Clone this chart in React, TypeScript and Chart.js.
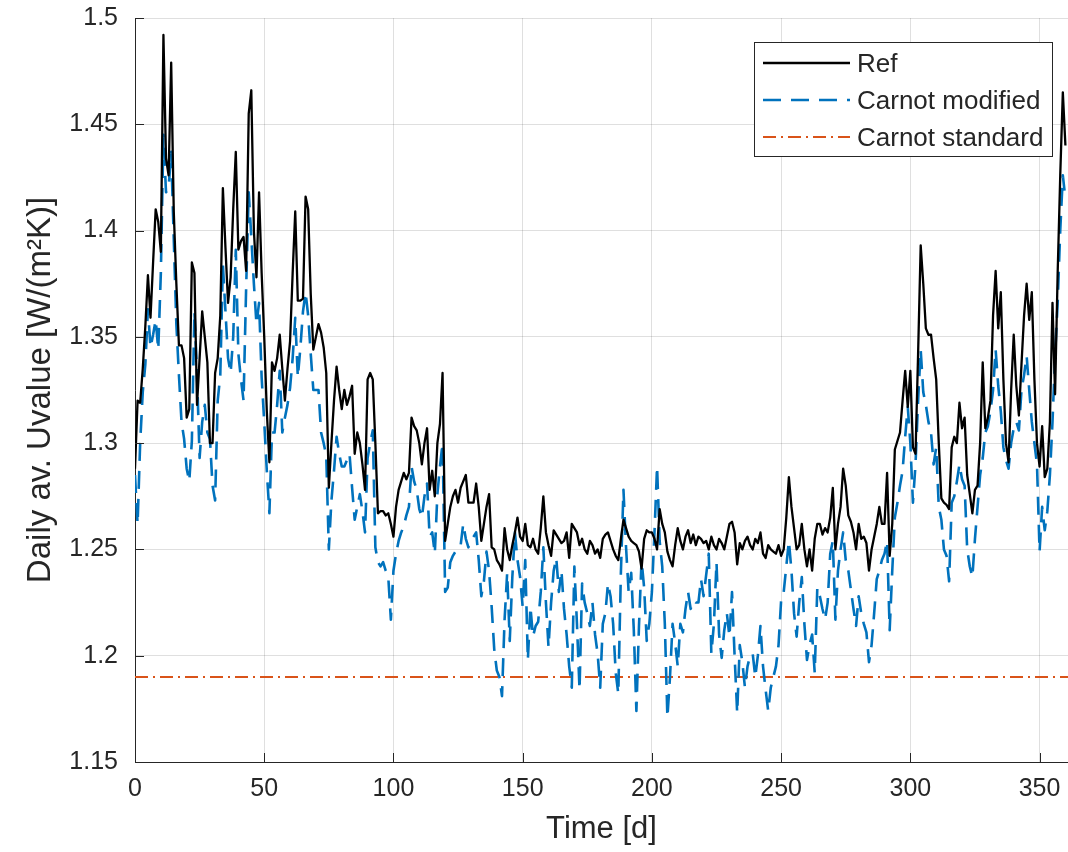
import React, { useEffect, useRef } from "react";
import { Chart, registerables } from "chart.js";

Chart.register(...registerables);

// ---- data ----
const SERIES_LABELS = ["Ref", "Carnot modified", "Carnot standard"];

// daily values, index = day
const REF_VALUES = [
  1.288, 1.320, 1.319, 1.335, 1.355, 1.379, 1.359, 1.385, 1.410, 1.404,
  1.390, 1.492, 1.434, 1.426, 1.479, 1.409, 1.375, 1.346, 1.346, 1.340,
  1.312, 1.316, 1.385, 1.380, 1.318, 1.340, 1.362, 1.350, 1.338, 1.300,
  1.300, 1.333, 1.340, 1.360, 1.420, 1.392, 1.366, 1.378, 1.410, 1.437,
  1.391, 1.395, 1.397, 1.381, 1.455, 1.466, 1.400, 1.378, 1.418, 1.380,
  1.350, 1.315, 1.291, 1.338, 1.334, 1.340, 1.351, 1.335, 1.320, 1.335,
  1.348, 1.380, 1.409, 1.367, 1.367, 1.368, 1.416, 1.410, 1.370, 1.344,
  1.350, 1.356, 1.352, 1.345, 1.333, 1.279, 1.300, 1.320, 1.336, 1.325,
  1.316, 1.325, 1.318, 1.322, 1.327, 1.295, 1.305, 1.300, 1.290, 1.278,
  1.330, 1.333, 1.330, 1.300, 1.267, 1.268, 1.268, 1.266, 1.267, 1.262,
  1.256, 1.270, 1.278, 1.282, 1.286, 1.283, 1.286, 1.312, 1.308, 1.306,
  1.300, 1.290, 1.300, 1.307, 1.278, 1.287, 1.275, 1.300, 1.309, 1.333,
  1.254, 1.262, 1.270, 1.275, 1.278, 1.272, 1.279, 1.282, 1.285, 1.272,
  1.272, 1.272, 1.281, 1.270, 1.254, 1.262, 1.270, 1.276, 1.251, 1.250,
  1.245, 1.243, 1.240, 1.260, 1.250, 1.245, 1.252, 1.258, 1.265, 1.256,
  1.254, 1.262, 1.252, 1.251, 1.255, 1.250, 1.248, 1.260, 1.275, 1.258,
  1.252, 1.247, 1.259, 1.257, 1.255, 1.253, 1.254, 1.258, 1.246, 1.262,
  1.260, 1.258, 1.252, 1.255, 1.250, 1.248, 1.254, 1.252, 1.248, 1.250,
  1.246, 1.255, 1.257, 1.258, 1.254, 1.250, 1.247, 1.245, 1.255, 1.264,
  1.260, 1.256, 1.254, 1.253, 1.252, 1.249, 1.241, 1.255, 1.259, 1.258,
  1.258, 1.255, 1.250, 1.269, 1.262, 1.258, 1.249, 1.245, 1.242, 1.252,
  1.260, 1.254, 1.250, 1.256, 1.259, 1.253, 1.257, 1.252, 1.256, 1.255,
  1.253, 1.254, 1.250, 1.256, 1.252, 1.250, 1.255, 1.253, 1.250, 1.256,
  1.262, 1.263, 1.258, 1.243, 1.253, 1.250, 1.254, 1.256, 1.252, 1.250,
  1.255, 1.253, 1.258, 1.248, 1.246, 1.252, 1.250, 1.249, 1.248, 1.252,
  1.247, 1.250, 1.265, 1.284, 1.270, 1.260, 1.250, 1.252, 1.262, 1.250,
  1.242, 1.250, 1.240, 1.255, 1.262, 1.262, 1.257, 1.260, 1.258, 1.265,
  1.279, 1.250, 1.262, 1.270, 1.288, 1.280, 1.266, 1.263, 1.258, 1.250,
  1.262, 1.255, 1.256, 1.253, 1.240, 1.250, 1.256, 1.262, 1.270, 1.262,
  1.262, 1.286, 1.247, 1.262, 1.297, 1.301, 1.305, 1.320, 1.334, 1.317,
  1.334, 1.298, 1.295, 1.342, 1.393, 1.375, 1.354, 1.351, 1.351, 1.340,
  1.330, 1.300, 1.274, 1.272, 1.271, 1.269, 1.298, 1.303, 1.300, 1.319,
  1.307, 1.312, 1.285, 1.276, 1.267, 1.278, 1.280, 1.300, 1.338, 1.307,
  1.312, 1.320, 1.360, 1.381, 1.354, 1.371, 1.330, 1.300, 1.291, 1.325,
  1.351, 1.327, 1.313, 1.337, 1.360, 1.375, 1.358, 1.371, 1.330, 1.300,
  1.289, 1.308, 1.284, 1.288, 1.310, 1.366, 1.323, 1.380, 1.426, 1.465,
  1.440,
];

const MOD_VALUES = [
  1.285, 1.262, 1.300, 1.324, 1.337, 1.363, 1.345, 1.351, 1.358, 1.344,
  1.380, 1.445, 1.418, 1.420, 1.437, 1.396, 1.356, 1.332, 1.310, 1.302,
  1.288, 1.282, 1.301, 1.362, 1.332, 1.293, 1.310, 1.318, 1.305, 1.302,
  1.280, 1.273, 1.320, 1.332, 1.384, 1.362, 1.340, 1.333, 1.350, 1.391,
  1.342, 1.330, 1.320, 1.373, 1.418, 1.397, 1.375, 1.356, 1.366, 1.331,
  1.310, 1.287, 1.267, 1.305, 1.305, 1.318, 1.334, 1.305, 1.312, 1.318,
  1.326, 1.340, 1.359, 1.331, 1.345, 1.362, 1.371, 1.360, 1.342, 1.325,
  1.325, 1.325, 1.305, 1.300, 1.294, 1.250, 1.273, 1.287, 1.303, 1.295,
  1.289, 1.289, 1.292, 1.295, 1.279, 1.264, 1.270, 1.276, 1.268, 1.258,
  1.293, 1.300, 1.306, 1.251, 1.244, 1.242, 1.244, 1.240, 1.237, 1.217,
  1.240, 1.248, 1.254, 1.258, 1.261, 1.266, 1.270, 1.289, 1.282, 1.278,
  1.269, 1.265, 1.275, 1.281, 1.256, 1.258, 1.248, 1.276, 1.289, 1.300,
  1.230, 1.232, 1.244, 1.247, 1.249, 1.250, 1.252, 1.262, 1.255, 1.251,
  1.254, 1.256, 1.258, 1.245, 1.228, 1.235, 1.249, 1.240, 1.223, 1.203,
  1.193, 1.190, 1.181, 1.217, 1.239, 1.207, 1.237, 1.258, 1.245, 1.237,
  1.223, 1.245, 1.198, 1.223, 1.209, 1.214, 1.216, 1.230, 1.251, 1.225,
  1.204, 1.225, 1.240, 1.246, 1.230, 1.240, 1.222, 1.210, 1.195, 1.185,
  1.242, 1.215, 1.184, 1.234, 1.225, 1.220, 1.214, 1.225, 1.210, 1.201,
  1.185, 1.215, 1.220, 1.234, 1.228, 1.215, 1.192, 1.182, 1.239, 1.278,
  1.251, 1.230, 1.239, 1.212, 1.174, 1.214, 1.245, 1.232, 1.207, 1.215,
  1.230, 1.258, 1.289, 1.254, 1.242, 1.215, 1.171, 1.190, 1.215, 1.206,
  1.195, 1.215, 1.211, 1.222, 1.230, 1.222, 1.226, 1.225, 1.225, 1.236,
  1.228, 1.238, 1.248, 1.201, 1.215, 1.244, 1.210, 1.199, 1.212, 1.220,
  1.209, 1.230, 1.200, 1.173, 1.205, 1.197, 1.185, 1.195, 1.200, 1.201,
  1.190, 1.200, 1.214, 1.195, 1.184, 1.174, 1.185, 1.190, 1.195, 1.205,
  1.226, 1.230, 1.242, 1.254, 1.240, 1.220, 1.209, 1.225, 1.237, 1.215,
  1.198, 1.205, 1.210, 1.192, 1.232, 1.228, 1.222, 1.217, 1.225, 1.248,
  1.254, 1.217, 1.240, 1.250, 1.258, 1.245, 1.240, 1.231, 1.222, 1.214,
  1.228, 1.220, 1.215, 1.211, 1.197, 1.205, 1.220, 1.236, 1.240, 1.245,
  1.248, 1.254, 1.212, 1.240, 1.265, 1.272, 1.280, 1.287, 1.303, 1.317,
  1.300, 1.272, 1.290, 1.320, 1.344, 1.324, 1.318, 1.310, 1.305, 1.290,
  1.298, 1.270, 1.264, 1.250, 1.247, 1.235, 1.272, 1.275, 1.282, 1.290,
  1.283, 1.280, 1.250, 1.242, 1.237, 1.255, 1.270, 1.285, 1.293, 1.305,
  1.308, 1.315, 1.325, 1.344, 1.327, 1.315, 1.298, 1.292, 1.288, 1.300,
  1.307, 1.310, 1.306, 1.325, 1.332, 1.341, 1.325, 1.310, 1.300, 1.290,
  1.249, 1.270, 1.259, 1.268, 1.285, 1.310, 1.341, 1.366, 1.400, 1.426,
  1.415,
];

const STD_DAYS = [0, 365];
const STD_VALUES = [1.19, 1.19];

const X_TICKS = [0, 50, 100, 150, 200, 250, 300, 350];
const Y_TICKS = [1.15, 1.2, 1.25, 1.3, 1.35, 1.4, 1.45, 1.5];
const X_RANGE = [0, 361];
const Y_RANGE = [1.15, 1.5];

const X_TITLE = "Time [d]";
const Y_TITLE = "Daily av. Uvalue [W/(m\u00B2K)]";

const FONT = "'Liberation Sans', Arial, Helvetica, sans-serif";
const TEXT_COLOR = "#262626";

const decorPlugin = {
  id: "matlabDecor",
  afterDatasetsDraw(chart: any) {
    const { ctx, chartArea: a, scales } = chart;
    const x = scales.x;
    const y = scales.y;
    ctx.save();
    ctx.strokeStyle = TEXT_COLOR;
    ctx.lineWidth = 1;
    ctx.setLineDash([]);
    ctx.beginPath();
    const tl = 9;
    X_TICKS.forEach((t) => {
      const px = Math.round(x.getPixelForValue(t)) + 0.5;
      ctx.moveTo(px, a.bottom);
      ctx.lineTo(px, a.bottom - tl);
    });
    Y_TICKS.forEach((t) => {
      const py = Math.round(y.getPixelForValue(t)) + 0.5;
      ctx.moveTo(a.left, py);
      ctx.lineTo(a.left + tl, py);
    });
    ctx.stroke();

    // legend box
    const bx = 754;
    const by = 42;
    const bw = 298;
    const bh = 114;
    ctx.fillStyle = "#ffffff";
    ctx.fillRect(bx, by, bw, bh);
    ctx.strokeStyle = TEXT_COLOR;
    ctx.lineWidth = 1;
    ctx.strokeRect(bx + 0.5, by + 0.5, bw, bh);
    ctx.font = `26px ${FONT}`;
    ctx.textBaseline = "middle";
    ctx.textAlign = "left";
    chart.data.datasets.forEach((ds: any, i: number) => {
      const rowY = by + 21 + i * 37;
      ctx.save();
      ctx.strokeStyle = ds.borderColor;
      ctx.lineWidth = ds.borderWidth;
      ctx.setLineDash(ds.borderDash || []);
      ctx.beginPath();
      ctx.moveTo(bx + 9, rowY);
      ctx.lineTo(bx + 96, rowY);
      ctx.stroke();
      ctx.restore();
      ctx.fillStyle = TEXT_COLOR;
      ctx.fillText(ds.label, bx + 103, rowY + 2);
    });
    ctx.restore();
  },
};

export default function App() {
  const ref = useRef<HTMLCanvasElement | null>(null);

  useEffect(() => {
    if (!ref.current) return;
    const chart = new Chart(ref.current, {
      type: "line",
      data: {
        datasets: [
          {
            label: SERIES_LABELS[0],
            data: REF_VALUES.map((v, i) => ({ x: i, y: v })),
            borderColor: "#000000",
            borderWidth: 2.3,
            borderJoinStyle: "round",
            pointRadius: 0,
            fill: false,
          },
          {
            label: SERIES_LABELS[1],
            data: MOD_VALUES.map((v, i) => ({ x: i, y: v })),
            borderColor: "#0072BD",
            borderWidth: 2.6,
            borderDash: [18, 10],
            borderJoinStyle: "round",
            pointRadius: 0,
            fill: false,
          },
          {
            label: SERIES_LABELS[2],
            data: STD_DAYS.map((d, i) => ({ x: d, y: STD_VALUES[i] })),
            borderColor: "#D95319",
            borderWidth: 2,
            borderDash: [13, 5, 2, 5],
            pointRadius: 0,
            fill: false,
          },
        ],
      },
      options: {
        animation: false,
        responsive: false,
        layout: { padding: { top: 18, right: 0, left: 0, bottom: 0 } },
        plugins: {
          legend: { display: false },
          tooltip: { enabled: false },
        },
        scales: {
          x: {
            type: "linear",
            min: X_RANGE[0],
            max: X_RANGE[1],
            afterBuildTicks: (s: any) => {
              s.ticks = X_TICKS.map((v) => ({ value: v }));
            },
            afterFit: (s: any) => {
              s.height = 90;
              s.paddingRight = 0;
              s.paddingLeft = 0;
            },
            ticks: {
              font: { family: FONT, size: 25 },
              color: TEXT_COLOR,
              padding: 12,
              maxRotation: 0,
            },
            grid: { color: "rgba(38,38,38,0.15)", drawTicks: false },
            border: { display: true, color: TEXT_COLOR, width: 1 },
            title: {
              display: true,
              text: X_TITLE,
              font: { family: FONT, size: 31, lineHeight: 1.2 },
              color: TEXT_COLOR,
              padding: { top: 0, bottom: 4 },
            },
          },
          y: {
            type: "linear",
            min: Y_RANGE[0],
            max: Y_RANGE[1],
            afterBuildTicks: (s: any) => {
              s.ticks = Y_TICKS.map((v) => ({ value: v }));
            },
            afterFit: (s: any) => {
              s.width = 135;
              s.paddingTop = 0;
              s.paddingBottom = 0;
            },
            ticks: {
              font: { family: FONT, size: 25 },
              color: TEXT_COLOR,
              padding: 17,
              callback: (v: any) => String(Number(Number(v).toFixed(2))),
            },
            grid: { color: "rgba(38,38,38,0.15)", drawTicks: false },
            border: { display: true, color: TEXT_COLOR, width: 1 },
            title: {
              display: true,
              text: Y_TITLE,
              font: { family: FONT, size: 33, lineHeight: 1.2 },
              color: TEXT_COLOR,
              padding: { top: 21, bottom: 0 },
            },
          },
        },
      },
      plugins: [decorPlugin],
    } as any);
    return () => chart.destroy();
  }, []);

  return (
    <div style={{ position: "absolute", left: 0, top: 0, width: 1068, height: 852, background: "#fff" }}>
      <canvas ref={ref} width={1068} height={852} style={{ display: "block", width: 1068, height: 852 }} />
    </div>
  );
}
